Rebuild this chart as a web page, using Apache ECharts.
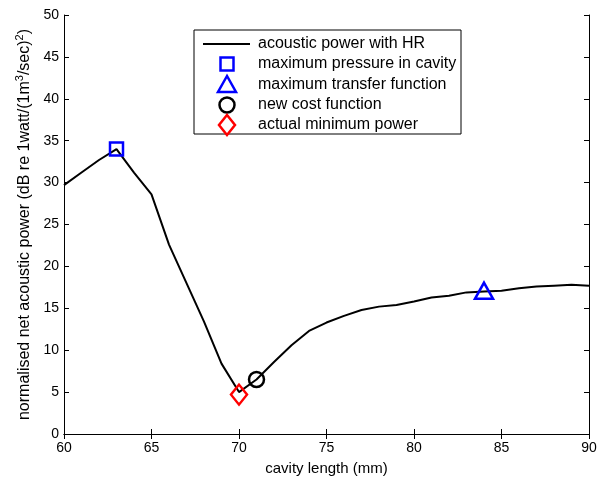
<!DOCTYPE html>
<html>
<head>
<meta charset="utf-8">
<script src="https://cdn.jsdelivr.net/npm/echarts@6/dist/echarts.min.js"></script>
<style>
  html, body { margin: 0; padding: 0; background: #fff; }
  #chart { width: 605px; height: 481px; }
</style>
</head>
<body>
<div id="chart"></div>
<script>
// Cavity length (mm) and normalised net acoustic power (dB)
const cavityLength = [60, 61, 62, 63, 64, 65, 66, 67, 68, 69, 70, 71, 72, 73, 74, 75,
  76, 77, 78, 79, 80, 81, 82, 83, 84, 85, 86, 87, 88, 89, 90];
const powerWithHR = [29.7, 31.2, 32.7, 34.0, 31.2, 28.6, 22.6, 18.0, 13.4, 8.4, 5.0, 6.5,
  8.6, 10.6, 12.3, 13.3, 14.1, 14.8, 15.2, 15.4, 15.8, 16.3, 16.5, 16.9, 17.0, 17.1,
  17.4, 17.6, 17.7, 17.8, 17.7];

// Design points picked by each criterion: [length, power]
const maxPressurePoint = [63, 34.0];
const maxTransferPoint = [84, 17.1];
const newCostPoint = [71, 6.5];
const actualMinPoint = [70, 4.7];

const legendLabels = [
  'acoustic power with HR',
  'maximum pressure in cavity',
  'maximum transfer function',
  'new cost function',
  'actual minimum power'
];

const xTicks = { min: 60, max: 90, interval: 5 };
const yTicks = { min: 0, max: 50, interval: 5 };

const FONT = 'Liberation Sans, Arial, sans-serif';
const BLUE = '#0000ff', RED = '#ff0000', BLACK = '#000000';

const chart = echarts.init(document.getElementById('chart'), null, { renderer: 'canvas' });

const hollow = (c) => ({ color: 'rgba(0,0,0,0)', borderColor: c, borderWidth: 2.5, opacity: 1 });

const axisCommon = {
  axisLine: { show: true, lineStyle: { color: BLACK, width: 1 } },
  axisTick: { show: true, inside: true, length: 5, lineStyle: { color: BLACK } },
  splitLine: { show: false }
};

// Legend box drawn as graphic elements
const lx = 194, ly = 30, lw = 267, lh = 104;
const rowY = [44, 64, 85, 105, 125];
const symX = 227, textX = 258;
const legendGraphics = [
  { type: 'rect', shape: { x: lx, y: ly, width: lw, height: lh },
    style: { fill: '#fff', stroke: BLACK, lineWidth: 1 }, z: 100 },
  { type: 'line', shape: { x1: 203, y1: rowY[0], x2: 250, y2: rowY[0] },
    style: { stroke: BLACK, lineWidth: 2 }, z: 101 },
  { type: 'rect', shape: { x: symX - 6.5, y: rowY[1] - 6.5, width: 13, height: 13 },
    style: { fill: 'none', stroke: BLUE, lineWidth: 2.5 }, z: 101 },
  { type: 'polygon', shape: { points: [[symX, rowY[2] - 9], [symX - 9, rowY[2] + 7], [symX + 9, rowY[2] + 7]] },
    style: { fill: 'none', stroke: BLUE, lineWidth: 2.5 }, z: 101 },
  { type: 'circle', shape: { cx: symX, cy: rowY[3], r: 7.5 },
    style: { fill: 'none', stroke: BLACK, lineWidth: 2.5 }, z: 101 },
  { type: 'polygon', shape: { points: [[symX, rowY[4] - 10], [symX + 8, rowY[4]], [symX, rowY[4] + 10], [symX - 8, rowY[4]]] },
    style: { fill: 'none', stroke: RED, lineWidth: 2.5 }, z: 101 }
];
legendLabels.forEach((t, i) => {
  legendGraphics.push({
    type: 'text', x: textX, y: rowY[i], z: 101,
    style: { text: t, font: '16px ' + FONT, fill: BLACK, textVerticalAlign: 'middle' }
  });
});

chart.setOption({
  animation: false,
  backgroundColor: '#fff',
  grid: { left: 64, right: 16, top: 15, bottom: 44 },
  xAxis: [
    Object.assign({}, axisCommon, {
      type: 'value', position: 'bottom', min: xTicks.min, max: xTicks.max, interval: xTicks.interval,
      name: 'cavity length (mm)', nameLocation: 'middle', nameGap: 27,
      nameTextStyle: { fontFamily: FONT, fontSize: 15, color: BLACK },
      axisLabel: { fontFamily: FONT, fontSize: 14, color: BLACK, margin: 7 }
    }),
    Object.assign({}, axisCommon, {
      type: 'value', position: 'top', min: xTicks.min, max: xTicks.max, interval: xTicks.interval,
      axisLabel: { show: false }
    })
  ],
  yAxis: [
    Object.assign({}, axisCommon, {
      type: 'value', position: 'left', min: yTicks.min, max: yTicks.max, interval: yTicks.interval,
      name: '{a|normalised net acoustic power (dB re 1watt/(1m}{s|3}{a|/sec)}{s|2}{a|)}',
      nameLocation: 'middle', nameGap: 26,
      nameTextStyle: {
        fontFamily: FONT, fontSize: 16, color: BLACK,
        rich: {
          a: { fontFamily: FONT, fontSize: 16, color: BLACK, verticalAlign: 'middle', lineHeight: 20 },
          s: { fontFamily: FONT, fontSize: 11, color: BLACK, verticalAlign: 'top', lineHeight: 20 }
        }
      },
      axisLabel: { fontFamily: FONT, fontSize: 14, color: BLACK, margin: 5 }
    }),
    Object.assign({}, axisCommon, {
      type: 'value', position: 'right', min: yTicks.min, max: yTicks.max, interval: yTicks.interval,
      axisLabel: { show: false }
    })
  ],
  series: [
    {
      name: legendLabels[0], type: 'line', showSymbol: false, symbol: 'none',
      data: cavityLength.map((x, i) => [x, powerWithHR[i]]),
      lineStyle: { color: BLACK, width: 2 }, z: 2
    },
    {
      name: legendLabels[1], type: 'scatter', symbol: 'rect', symbolSize: 13,
      data: [maxPressurePoint], itemStyle: hollow(BLUE), z: 3
    },
    {
      name: legendLabels[2], type: 'scatter', symbol: 'triangle', symbolSize: [18, 16],
      data: [maxTransferPoint], itemStyle: hollow(BLUE), z: 3
    },
    {
      name: legendLabels[3], type: 'scatter', symbol: 'circle', symbolSize: 15,
      data: [newCostPoint], itemStyle: hollow(BLACK), z: 3
    },
    {
      name: legendLabels[4], type: 'scatter', symbol: 'diamond', symbolSize: [16, 20],
      data: [actualMinPoint], itemStyle: hollow(RED), z: 3
    }
  ],
  graphic: legendGraphics
});
</script>
</body>
</html>
